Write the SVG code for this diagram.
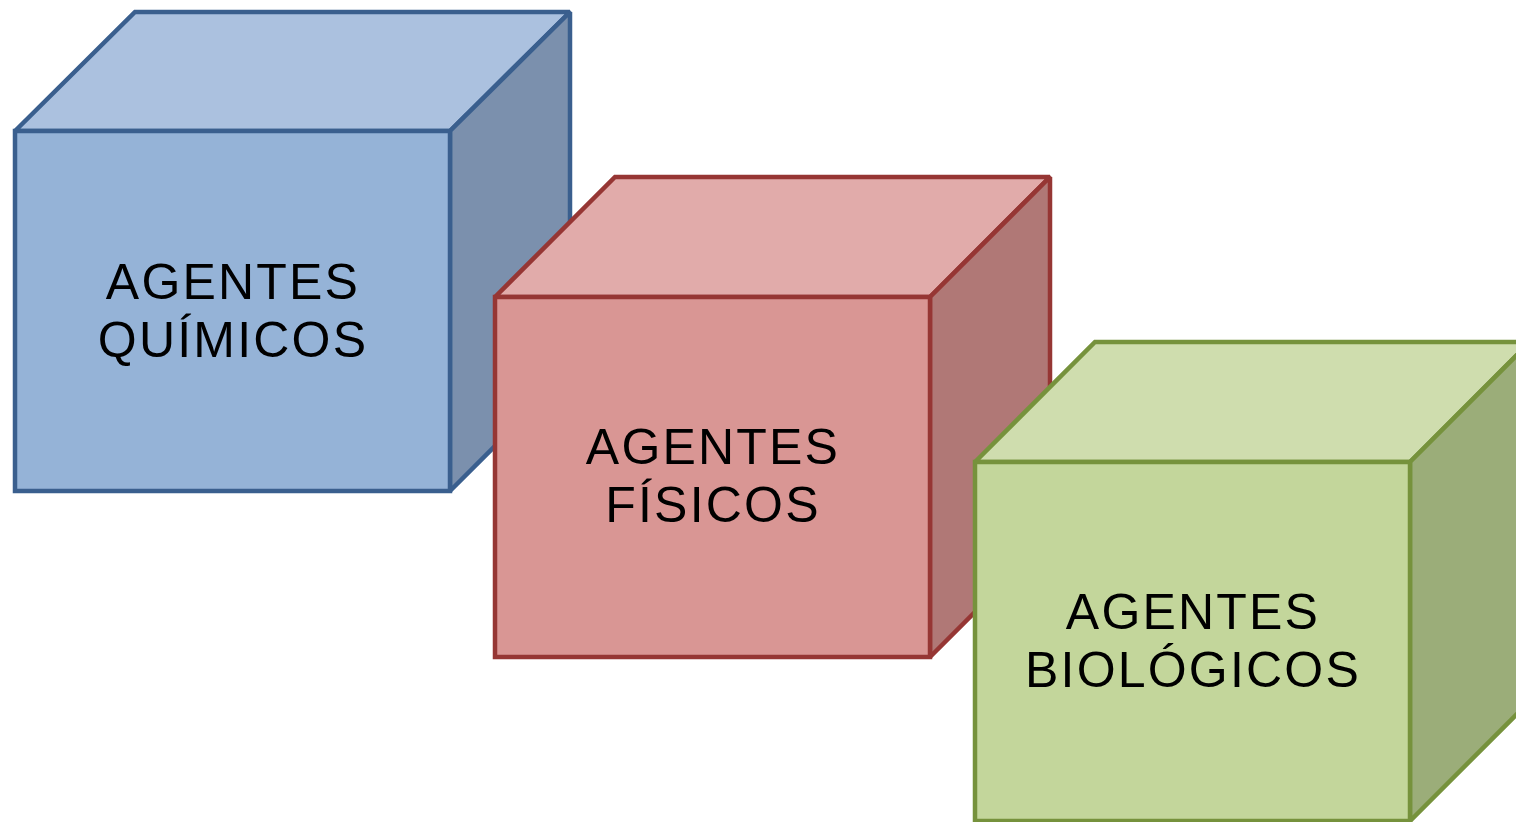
<svg xmlns="http://www.w3.org/2000/svg" width="1516" height="822" viewBox="0 0 1516 822">
<style>
.s{stroke-width:4.5;stroke-linejoin:miter;stroke-miterlimit:2}
.b{stroke:#3A5F8E}.r{stroke:#963634}.g{stroke:#76923C}
text{font-family:"Liberation Sans",Arial,sans-serif;font-size:50px;fill:#000;text-anchor:middle;letter-spacing:2.2px}
</style>
<rect width="1516" height="822" fill="#fff"/>
<g id="quimicos">
<polygon class="s b" fill="#ABC1DF" points="15,131 135,12 570,12 450,131"/>
<polygon class="s b" fill="#7B90AD" points="450,131 570,12 570,371 450,491"/>
<rect class="s b" fill="#95B3D7" x="15" y="131" width="435" height="360"/>
<text x="233" y="299">AGENTES</text>
<text x="233" y="357">QUÍMICOS</text>
</g>
<g id="fisicos">
<polygon class="s r" fill="#E1ABAA" points="495,297 615,177 1050,177 930,297"/>
<polygon class="s r" fill="#B07876" points="930,297 1050,177 1050,537 930,657"/>
<rect class="s r" fill="#D99694" x="495" y="297" width="435" height="360"/>
<text x="713" y="464">AGENTES</text>
<text x="713" y="522">FÍSICOS</text>
</g>
<g id="biologicos">
<polygon class="s g" fill="#CFDDAE" points="975,462 1095,342 1530,342 1410,462"/>
<polygon class="s g" fill="#9BAD79" points="1410,462 1530,342 1530,701 1410,821"/>
<rect class="s g" fill="#C3D69B" x="975" y="462" width="435" height="359"/>
<text x="1193" y="629">AGENTES</text>
<text x="1193" y="687">BIOLÓGICOS</text>
</g>
<g id="connectors"/>
</svg>
